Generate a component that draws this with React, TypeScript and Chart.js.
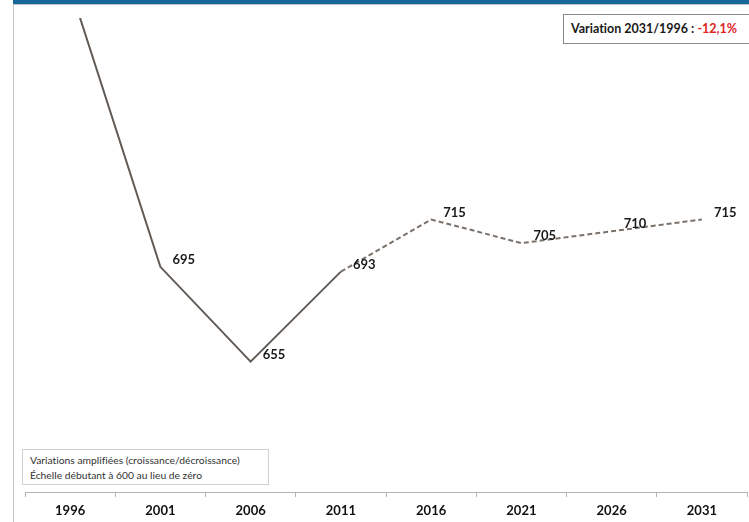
import React, { useEffect, useRef } from "react";
import { Chart, registerables } from "chart.js";

Chart.register(...registerables);

const categories = ["1996", "2001", "2006", "2011", "2016", "2021", "2026", "2031"];
const values = [813, 695, 655, 693, 715, 705, 710, 715];
const labelValues = ["813", "695", "655", "693", "715", "705", "710", "715"];
const projectionStartIndex = 3;
const yMin = 600;
const yMax = 800;

const FONT = "Lato, 'DejaVu Sans', sans-serif";

const labelPlugin = {
  id: "pointLabels",
  afterDatasetsDraw(chart: any) {
    const meta = chart.getDatasetMeta(0);
    const area = chart.chartArea;
    const ctx = chart.ctx;
    ctx.save();
    ctx.font = `bold 13px ${FONT}`;
    ctx.fillStyle = "#1a1a1a";
    ctx.textAlign = "left";
    ctx.textBaseline = "middle";
    meta.data.forEach((pt: any, i: number) => {
      if (pt.y < area.top || pt.y > area.bottom) return;
      ctx.fillText(labelValues[i], pt.x + 12, pt.y - 7);
    });
    ctx.restore();
  },
};

export default function App() {
  const canvasRef = useRef<HTMLCanvasElement | null>(null);

  useEffect(() => {
    document.body.style.margin = "0";
    const canvas = canvasRef.current;
    if (!canvas) return;
    const chart = new Chart(canvas, {
      type: "line",
      data: {
        labels: categories,
        datasets: [
          {
            data: values,
            borderColor: "#625b55",
            borderWidth: 2,
            pointRadius: 0,
            pointHoverRadius: 0,
            tension: 0,
            fill: false,
            segment: {
              borderDash: (c: any) => (c.p0DataIndex >= projectionStartIndex ? [5, 3] : undefined),
              borderColor: (c: any) => (c.p0DataIndex >= projectionStartIndex ? "#7a716a" : "#625b55"),
            },
          },
        ],
      },
      options: {
        animation: false,
        responsive: false,
        devicePixelRatio: 1,
        layout: { padding: { left: 25, right: 2, top: 18, bottom: 0 } },
        plugins: {
          legend: { display: false },
          tooltip: { enabled: false },
          title: { display: false },
        },
        scales: {
          x: {
            type: "category",
            offset: true,
            grid: {
              offset: true,
              drawOnChartArea: false,
              drawTicks: true,
              tickLength: 5,
              color: "#b3b3b3",
            },
            border: { display: true, color: "#b3b3b3" },
            ticks: {
              font: { family: FONT, size: 13, weight: "bold" },
              color: "#111111",
              padding: 6,
              maxRotation: 0,
            },
            afterFit: (s: any) => {
              s.height = 30;
            },
          },
          y: {
            display: false,
            min: yMin,
            max: yMax,
          },
        },
      },
      plugins: [labelPlugin],
    } as any);
    return () => chart.destroy();
  }, []);

  return (
    <div style={{ position: "absolute", left: 0, top: 0, width: 749, height: 522, background: "#ffffff", overflow: "hidden" }}>
      <canvas ref={canvasRef} width={749} height={522} style={{ position: "absolute", left: 0, top: 0 }} />
      <div style={{ position: "absolute", left: 13, top: 0, width: 736, height: 4, background: "#17679a" }} />
      <div style={{ position: "absolute", left: 13, top: 4, width: 736, height: 1, background: "#c4c4c4" }} />
      <div style={{ position: "absolute", left: 13, top: 4, width: 1, height: 518, background: "#c4c4c4" }} />
      <div
        style={{
          position: "absolute",
          left: 563,
          top: 14,
          width: 186,
          height: 30,
          boxSizing: "border-box",
          border: "1px solid #8a8a8a",
          borderRight: "none",
          background: "#fff",
          fontFamily: FONT,
          fontWeight: 700,
          fontSize: 12.5,
          color: "#1a1a1a",
          lineHeight: "28px",
          paddingLeft: 7,
          whiteSpace: "nowrap",
          fontVariantLigatures: "none",
        }}
      >
        Variation 2031/1996 : <span style={{ color: "#e02424" }}>-12,1%</span>
      </div>
      <div
        style={{
          position: "absolute",
          left: 22,
          top: 449,
          width: 247,
          height: 36,
          boxSizing: "border-box",
          border: "1px solid #d0d0d0",
          background: "#fff",
          fontFamily: FONT,
          fontSize: 10.3,
          color: "#333",
          lineHeight: "15px",
          paddingLeft: 7,
          paddingTop: 3,
          whiteSpace: "nowrap",
          fontVariantLigatures: "none",
        }}
      >
        <div>Variations amplifiées (croissance/décroissance)</div>
        <div>Échelle débutant à 600 au lieu de zéro</div>
      </div>
    </div>
  );
}
